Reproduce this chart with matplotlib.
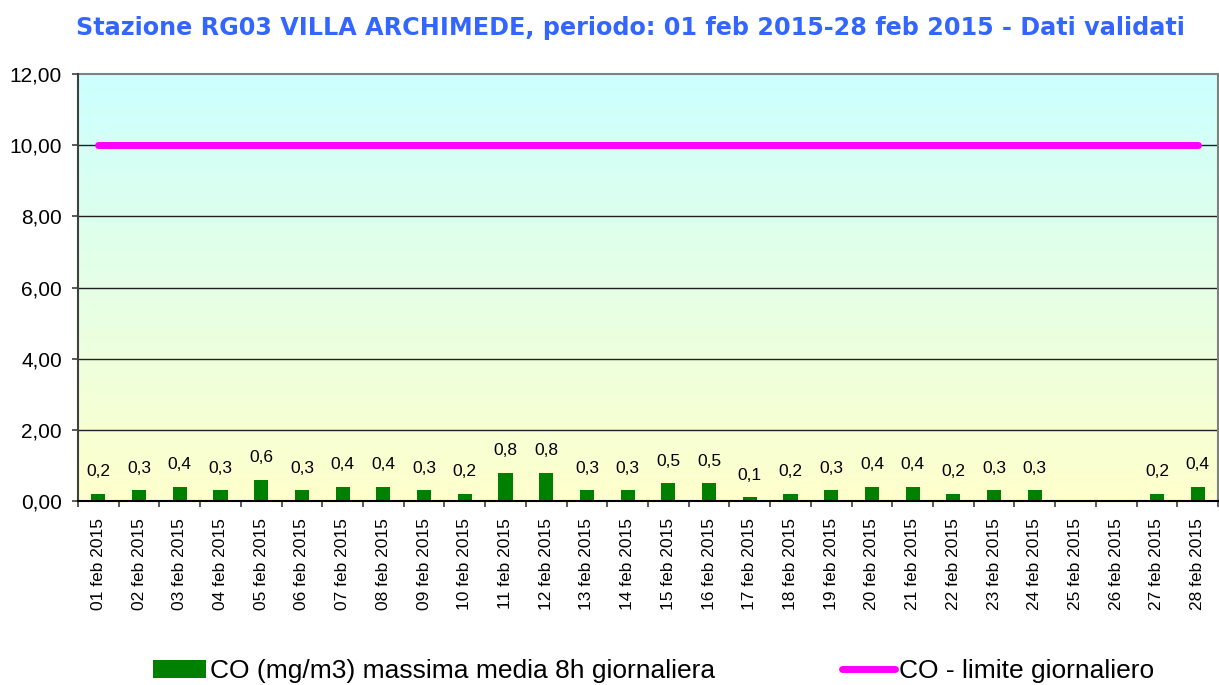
import numpy as np
import matplotlib
matplotlib.use("Agg")
import matplotlib.pyplot as plt
from matplotlib.lines import Line2D
from matplotlib.patches import Patch

days = [f"{d:02d} feb 2015" for d in range(1, 29)]
co_values = [0.2, 0.3, 0.4, 0.3, 0.6, 0.3, 0.4, 0.4, 0.3, 0.2, 0.8, 0.8, 0.3, 0.3,
             0.5, 0.5, 0.1, 0.2, 0.3, 0.4, 0.4, 0.2, 0.3, 0.3, np.nan, np.nan, 0.2, 0.4]
limit_values = [10.0] * 28
y_ticks = [0, 2, 4, 6, 8, 10, 12]
title = "Stazione RG03 VILLA ARCHIMEDE, periodo: 01 feb 2015-28 feb 2015 - Dati validati"
bar_label = "CO (mg/m3) massima media 8h giornaliera"
line_label = "CO - limite giornaliero"

plt.rcParams['font.family'] = ['Liberation Sans', 'DejaVu Sans']

fig = plt.figure(figsize=(12.19, 6.85), dpi=100)
ax = fig.add_axes([78/1219, (685-501)/685, (1218-78)/1219, (501-74)/685])

x = np.arange(len(days))
ax.set_xlim(-0.5, len(days) - 0.5)
ax.set_ylim(0, 12)

# vertical gradient background (cyan at top to pale yellow at bottom)
top = np.array([204, 255, 255]) / 255
bot = np.array([255, 255, 204]) / 255
t = np.linspace(0, 1, 256)[:, None]
grad = (top[None, :] * (1 - t) + bot[None, :] * t)[:, None, :]
ax.imshow(grad, extent=(-0.5, len(days) - 0.5, 0, 12), aspect='auto', zorder=0,
          origin='upper', interpolation='bilinear')

for yv in y_ticks[1:-1]:
    ax.axhline(yv, color='#202020', lw=1.0, zorder=1)

vals = np.array(co_values, dtype=float)
ax.bar(x, np.nan_to_num(vals), width=0.35, color='#008000', zorder=2, label=bar_label)
for xi, v in zip(x, vals):
    if not np.isnan(v):
        ax.annotate(f"{v:.1f}".replace('.', ','), (xi, v), xytext=(0, 10.5),
                    textcoords='offset points', ha='center', va='bottom', fontsize=12.5)

ax.plot(x, limit_values, color='#FF00FF', lw=5, solid_capstyle='round', zorder=3, label=line_label)

# x ticks: marks at category boundaries, labels at category centres
bounds = np.arange(-0.5, len(days), 1.0)
ax.set_xticks(bounds)
ax.set_xticklabels([''] * len(bounds))
ax.set_xticks(x, minor=True)
ax.set_xticklabels(days, minor=True, rotation=90, fontsize=12.5)
ax.tick_params(axis='x', which='major', length=4.3, width=1.2, direction='out', color='#404040')
ax.tick_params(axis='x', which='minor', length=0, pad=12)

ax.set_yticks(y_ticks)
ax.set_yticklabels([f"{v:.2f}".replace('.', ',') for v in y_ticks], fontsize=15)
ax.tick_params(axis='y', which='major', length=4.3, width=1.2, direction='out', pad=7.2, color='#404040')

for s in ['top', 'right']:
    ax.spines[s].set_color('#808080')
    ax.spines[s].set_linewidth(1.5)
ax.spines['left'].set_color('#404040')
ax.spines['left'].set_linewidth(1.5)
ax.spines['bottom'].set_color('#000000')
ax.spines['bottom'].set_linewidth(1.5)
ax.spines['left'].set_zorder(5)
ax.spines['bottom'].set_zorder(5)

fig.text(630/1219, 1 - 28/685, title, ha='center', va='center', fontsize=17.2,
         fontweight='bold', color='#3366FF', family='DejaVu Sans')

handles = [Patch(facecolor='#008000', label=bar_label),
           Line2D([0], [0], color='#FF00FF', lw=5, solid_capstyle='round', label=line_label)]
fig.legend(handles=handles, loc='center', bbox_to_anchor=(653.5/1219, 1 - 671/685), ncol=2,
           frameon=False, fontsize=19, handlelength=2.0, handletextpad=0.15,
           columnspacing=4.8, borderaxespad=0, borderpad=0)

fig.savefig("out.png", dpi=100)
